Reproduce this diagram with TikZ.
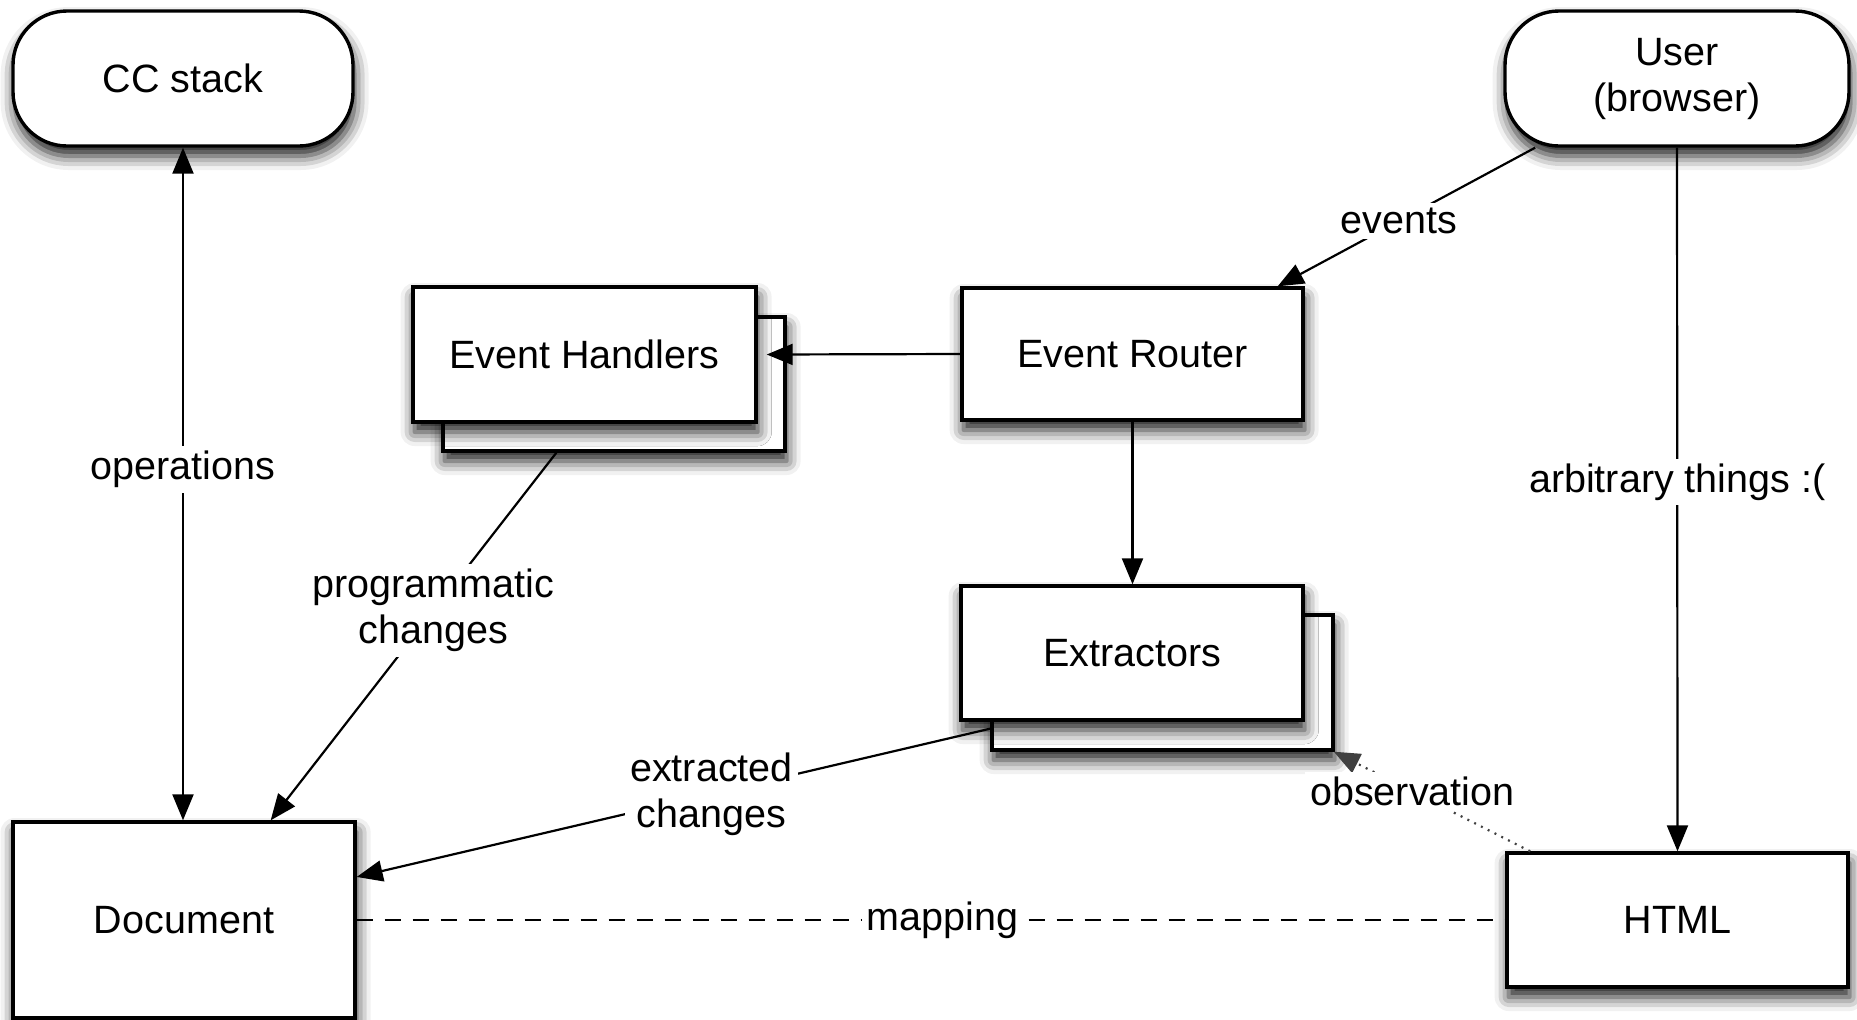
\documentclass[tikz,border=0pt]{standalone}
\usepackage{fontspec}
\setmainfont{Liberation Sans}
\usetikzlibrary{arrows.meta,calc,shadows.blur}

\tikzset{
  txt/.style={font=\fontsize{19.75pt}{23pt}\selectfont},
  softshadow/.style={blur shadow={shadow xshift=0.8pt, shadow yshift=-5pt,
      shadow blur radius=7pt, shadow opacity=90}},
  box/.style={txt, draw, line width=1.7pt, fill=white, inner sep=0pt,
      align=center, softshadow},
  pill/.style={box, rounded corners=27pt},
  conn/.style={line width=1.1pt},
  tip/.style={-{Triangle[length=13pt, width=10.5pt]}},
  lbl/.style={txt, text=black, fill=white, inner sep=2.5pt, align=center},
}

\begin{document}
\begin{tikzpicture}[x=0.5pt, y=-0.5pt]
  \useasboundingbox (0,0) rectangle (1857,1019);

  % terminal nodes
  \node[pill, minimum width=170pt, minimum height=67.5pt] (cc) at (183,78.5) {CC stack};
  \node[pill, minimum width=172pt, minimum height=67.5pt] (user) at (1677,78.5) {User\\(browser)};

  % stacked boxes: a back sheet behind each front box
  \node[box, minimum width=171pt, minimum height=67pt] (hb) at (614,384) {};
  \node[box, minimum width=171.5pt, minimum height=67.5pt] (hf) at (584.5,354.5) {Event Handlers};
  \node[box, minimum width=170.5pt, minimum height=66pt] (router) at (1132.5,354) {Event Router};
  \node[box, minimum width=170.5pt, minimum height=67.5pt] (eb) at (1162.5,682.5) {};
  \node[box, minimum width=171pt, minimum height=67pt] (ef) at (1132,653) {Extractors};

  % bottom row
  \node[box, minimum width=171pt, minimum height=98pt] (doc) at (184,920) {Document};
  \node[box, minimum width=170.5pt, minimum height=67pt] (html) at (1677.5,920) {HTML};

  % connectors
  \draw[conn, {Triangle[length=13pt, width=10.5pt]}-{Triangle[length=13pt, width=10.5pt]}]
    (cc.south) -- (cc.south |- doc.north)
    node[lbl, pos=0.478] {operations};

  \draw[conn, tip] (user.206.7) -- (router.25)
    node[lbl, pos=0.53] {events};

  \draw[conn, tip] (router.west) -- ($(hf.east)+(9,0)$);

  \draw[conn, tip] (router.south) -- (router.south |- ef.north);

  \draw[conn, tip] (hb.230) -- (doc.49.7)
    node[lbl, pos=0.43] {programmatic\\changes};

  \draw[conn, tip] (eb.195) -- (doc.14.4)
    node[lbl, pos=0.44] {extracted\\changes};

  \draw[conn, tip] (user.south) -- (html.north)
    node[lbl, pos=0.475] {arbitrary things :(};

  \draw[conn, draw=black!75, dash pattern=on 1pt off 2.8pt, tip] (html.155.5) -- (eb.-22.5)
    node[lbl, pos=0.6] {observation};

  \draw[conn, dash pattern=on 8pt off 6pt] (doc.east) -- (html.west)
    node[lbl, pos=0.51] {mapping};
\end{tikzpicture}
\end{document}
